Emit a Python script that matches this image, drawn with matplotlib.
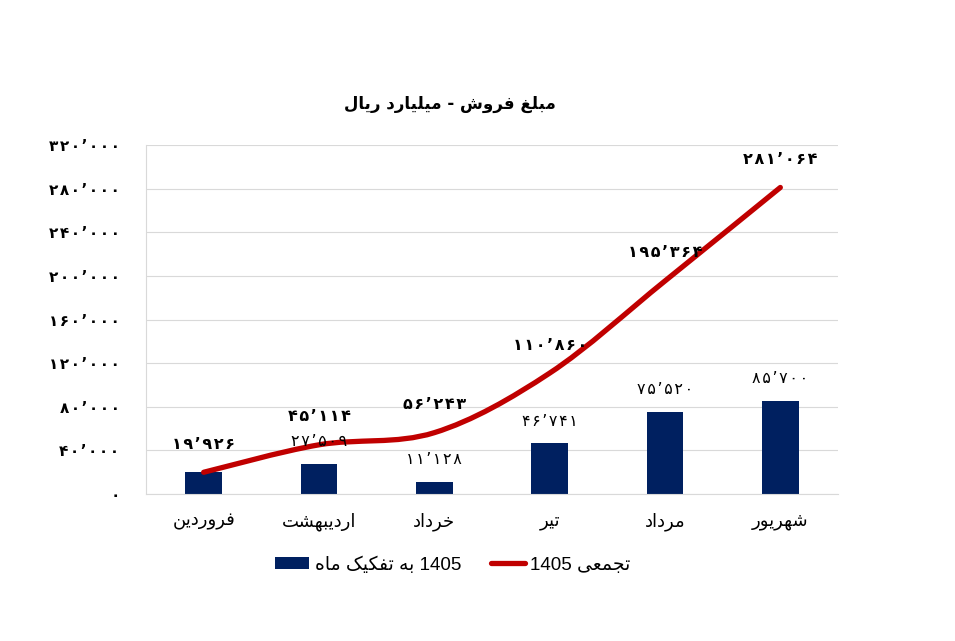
import matplotlib
matplotlib.use("Agg")
import matplotlib.pyplot as plt
from matplotlib.path import Path
from matplotlib.patches import PathPatch, Patch
from matplotlib.lines import Line2D
import numpy as np

# chart data
months = ["فروردین", "اردیبهشت", "خرداد", "تیر", "مرداد", "شهریور"]
monthly = [19926, 27509, 11128, 46741, 75520, 85700]
cumulative = [19926, 45114, 56243, 110860, 195364, 281064]
y_ticks = [0, 40000, 80000, 120000, 160000, 200000, 240000, 280000, 320000]
title = "مبلغ فروش - میلیارد ریال"
legend_labels = ["1405 به تفکیک ماه", "تجمعی 1405"]

BAR_COLOR = "#002060"
LINE_COLOR = "#C00000"
GRID_COLOR = "#D9D9D9"

# matplotlib has no arabic shaping, so pick the contextual forms by hand
# (isolated, final, initial, medial) - right joining letters have no initial
FORMS = {
    "ا": ("\uFE8D", "\uFE8E", None, None),
    "ب": ("\uFE8F", "\uFE90", "\uFE91", "\uFE92"),
    "ت": ("\uFE95", "\uFE96", "\uFE97", "\uFE98"),
    "ج": ("\uFE9D", "\uFE9E", "\uFE9F", "\uFEA0"),
    "خ": ("\uFEA5", "\uFEA6", "\uFEA7", "\uFEA8"),
    "د": ("\uFEA9", "\uFEAA", None, None),
    "ر": ("\uFEAD", "\uFEAE", None, None),
    "ش": ("\uFEB5", "\uFEB6", "\uFEB7", "\uFEB8"),
    "ع": ("\uFEC9", "\uFECA", "\uFECB", "\uFECC"),
    "غ": ("\uFECD", "\uFECE", "\uFECF", "\uFED0"),
    "ف": ("\uFED1", "\uFED2", "\uFED3", "\uFED4"),
    "ل": ("\uFEDD", "\uFEDE", "\uFEDF", "\uFEE0"),
    "م": ("\uFEE1", "\uFEE2", "\uFEE3", "\uFEE4"),
    "ن": ("\uFEE5", "\uFEE6", "\uFEE7", "\uFEE8"),
    "ه": ("\uFEE9", "\uFEEA", "\uFEEB", "\uFEEC"),
    "و": ("\uFEED", "\uFEEE", None, None),
    "ی": ("\uFBFC", "\uFBFD", "\uFBFE", "\uFBFF"),
    "ک": ("\uFB8E", "\uFB8F", "\uFB90", "\uFB91"),
}


def shape_word(w):
    out = []
    for i, ch in enumerate(w):
        if ch not in FORMS:
            out.append(ch)
            continue
        prev = w[i - 1] if i > 0 else None
        nxt = w[i + 1] if i + 1 < len(w) else None
        jp = prev in FORMS and FORMS[prev][2] is not None
        jn = FORMS[ch][2] is not None and nxt in FORMS
        iso, fin, ini, med = FORMS[ch]
        if jp and jn:
            out.append(med)
        elif jp:
            out.append(fin)
        elif jn:
            out.append(ini)
        else:
            out.append(iso)
    return "".join(reversed(out))


def rtl(text):
    words = text.split(" ")
    return " ".join(shape_word(w) if any(c in FORMS for c in w) else w
                    for w in reversed(words))


def fa_num(v):
    s = f"{v:,}".replace(",", "\u2019")
    s = s.translate(str.maketrans("0123456789", "۰۱۲۳۴۵۶۷۸۹"))
    # the source font sets these digits quite loosely
    return "\u200a".join(s)


def smooth_path(xs, ys):
    # excel-like smoothed line as cubic bezier segments through the points
    pts = np.column_stack([xs, ys]).astype(float)
    n = len(pts)
    verts = [pts[0]]
    codes = [Path.MOVETO]
    for i in range(n - 1):
        p0 = pts[max(i - 1, 0)]
        p1 = pts[i]
        p2 = pts[i + 1]
        p3 = pts[min(i + 2, n - 1)]
        verts += [p1 + (p2 - p0) / 6, p2 - (p3 - p1) / 6, p2]
        codes += [Path.CURVE4] * 3
    return Path(verts, codes)


plt.rcParams["font.family"] = ["DejaVu Sans"]

fig = plt.figure(figsize=(9.55, 6.41), dpi=100)
ax = fig.add_axes([146 / 955, 1 - 494 / 641, 692 / 955, 349 / 641])

x = np.arange(len(months))
ax.bar(x, monthly, width=0.32, color=BAR_COLOR, zorder=2)
ax.add_patch(PathPatch(smooth_path(x, cumulative), fill=False,
                       edgecolor=LINE_COLOR, lw=3.8, capstyle="round", zorder=3))

# data labels - where both series share a value only one label shows
for xi, v, c in zip(x, monthly, cumulative):
    if v == c:
        continue
    ax.annotate(fa_num(v), (xi, v), xytext=(0, 22), textcoords="offset pixels",
                ha="center", va="center", fontsize=11.5, zorder=4)
for xi, v in zip(x, cumulative):
    ax.annotate(fa_num(v), (xi, v), xytext=(0, 28), textcoords="offset pixels",
                ha="center", va="center", fontsize=11.5, fontweight="bold", zorder=4)

ax.set_xlim(-0.5, len(months) - 0.5)
ax.set_ylim(y_ticks[0], y_ticks[-1])
ax.set_yticks(y_ticks)
ax.set_yticklabels([fa_num(t) for t in y_ticks], fontsize=11, fontweight="bold")
ax.set_xticks(x)
ax.set_xticklabels([rtl(m) for m in months], fontsize=13)
ax.tick_params(axis="both", length=0)
ax.tick_params(axis="y", pad=19)
ax.tick_params(axis="x", pad=13)

ax.grid(axis="y", color=GRID_COLOR, lw=0.8, zorder=0)
ax.set_axisbelow(True)
for side in ["top", "right"]:
    ax.spines[side].set_visible(False)
for side in ["left", "bottom"]:
    ax.spines[side].set_color(GRID_COLOR)
    ax.spines[side].set_linewidth(0.8)

fig.text(450 / 955, 1 - 104 / 641, rtl(title), ha="center", va="center",
         fontsize=12, fontweight="bold")

handles = [Patch(facecolor=BAR_COLOR),
           Line2D([0], [0], color=LINE_COLOR, lw=3.8, solid_capstyle="round")]
fig.legend(handles, [rtl(l) for l in legend_labels], ncol=2, frameon=False,
           loc="center", bbox_to_anchor=(453 / 955, 1 - 565 / 641),
           prop={"family": ["Liberation Sans", "DejaVu Sans"], "size": 13.5},
           handlelength=1.8, handleheight=0.65, columnspacing=1.6, handletextpad=0.3)

fig.savefig("out.png", dpi=100)
